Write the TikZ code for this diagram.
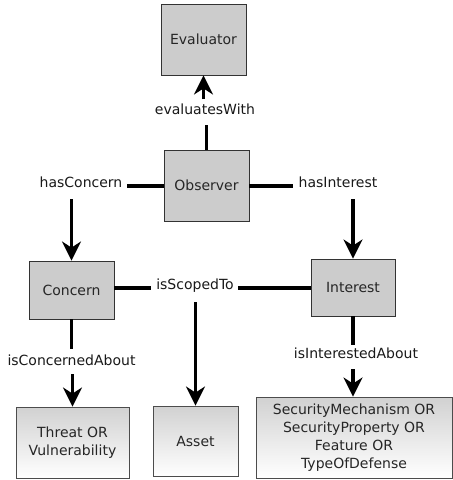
\documentclass[tikz,border=0pt]{standalone}
\usepackage{fontspec}
\setmainfont{DejaVu Sans}
\usetikzlibrary{arrows.meta}
\begin{document}
\begin{tikzpicture}[x=1pt,y=-1pt,
  font=\fontsize{14}{17.8}\selectfont,
  box/.style={draw=black!80, line width=0.9pt, fill=black!20, inner sep=0pt, align=center, text=black!85},
  leaf/.style={draw=black!70, line width=0.9pt, top color=black!18, bottom color=white, inner sep=0pt, align=center, text=black!85},
  lbl/.style={inner sep=0pt, text=black!90},
  conn/.style={line width=3.3pt, black},
  arr/.style={conn, -{Stealth[length=19pt,width=19pt,inset=6pt]}}]
\useasboundingbox (0,0) rectangle (453,480);
\node[box, minimum width=85pt, minimum height=71pt] (eval) at (203.5,39.5) {Evaluator};
\node[box, minimum width=85pt, minimum height=71pt] (obs) at (206.5,185.5) {Observer};
\node[box, minimum width=85pt, minimum height=58pt] (concern) at (71.5,290) {Concern};
\node[box, minimum width=84pt, minimum height=57pt] (interest) at (353,287.5) {Interest};
\node[leaf, minimum width=113pt, minimum height=71pt] (threat) at (72.5,442.5) {Threat OR\\Vulnerability};
\node[leaf, minimum width=85pt, minimum height=70pt] (asset) at (195.5,441) {Asset};
\node[leaf, minimum width=196pt, minimum height=81pt] (sec) at (354,437.5) {SecurityMechanism OR\\SecurityProperty OR\\Feature OR\\TypeOfDefense};
% labels
\node[lbl] (ew) at (205,109) {evaluatesWith};
\node[lbl] (hc) at (81,182) {hasConcern};
\node[lbl] (hi) at (338,182) {hasInterest};
\node[lbl] (isc) at (195,286) {isScopedTo};
\node[lbl] (ica) at (71.5,360) {isConcernedAbout};
\node[lbl] (iia) at (356,353) {isInterestedAbout};
% connectors
\draw[conn] (obs.north) -- ([yshift=-16pt]ew.center -| obs.north);
\draw[arr] ([yshift=10pt]ew.center -| eval.south) -- (eval.south);
\draw[conn] (obs.west |- 0,186) -- ([xshift=4pt]hc.east |- 0,186);
\draw[arr] ([yshift=-17pt]hc.center -| concern.north) -- (concern.north);
\draw[conn] (obs.east |- 0,186) -- ([xshift=-5pt]hi.west |- 0,186);
\draw[arr] ([yshift=-17pt]hi.center -| interest.north) -- (interest.north);
\draw[conn] (concern.east |- 0,288) -- ([xshift=-5pt]isc.west |- 0,288);
\draw[conn] (interest.west |- 0,288) -- ([xshift=4pt]isc.east |- 0,288);
\draw[arr] ([yshift=-16pt]isc.center -| asset.north) -- (asset.north);
\draw[conn] (concern.south) -- ([yshift=11pt]ica.center -| concern.south);
\draw[arr] ([yshift=-14pt]ica.center -| threat.north) -- (threat.north);
\draw[conn] (interest.south) -- ([yshift=8pt]iia.center -| interest.south);
\draw[arr] ([yshift=-16pt]iia.center -| interest.south) -- (interest.south |- sec.north);
\end{tikzpicture}
\end{document}
